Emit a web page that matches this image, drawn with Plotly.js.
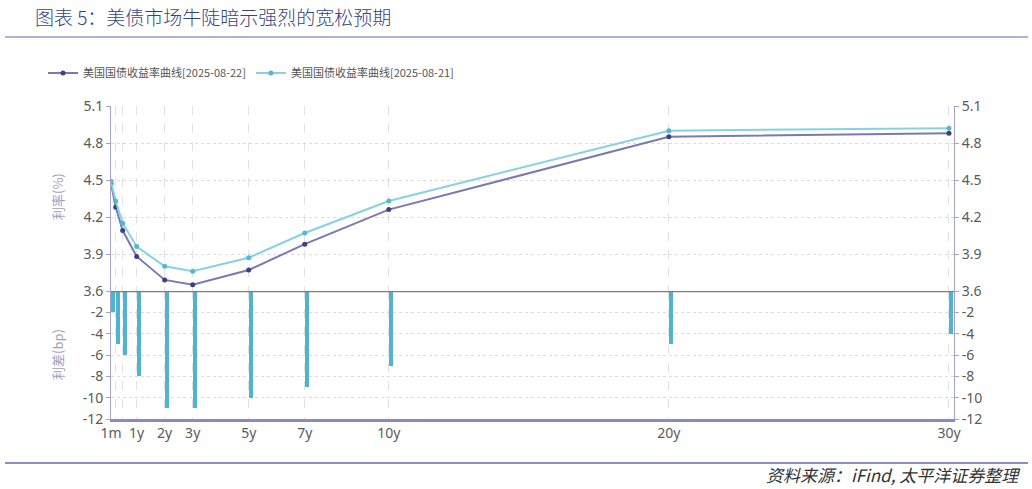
<!DOCTYPE html>
<html>
<head>
<meta charset="utf-8">
<script src="https://cdn.plot.ly/plotly-3.0.1.min.js"></script>
<style>
html,body{margin:0;padding:0;background:#fff;}
#chart{width:1032px;height:489px;}
</style>
</head>
<body>
<div id="chart"></div>
<script>
// ---- data ----
var maturities = [1/12, 0.25, 0.5, 1, 2, 3, 5, 7, 10, 20, 30];
var maturityLabels = ['1m', '', '', '1y', '2y', '3y', '5y', '7y', '10y', '20y', '30y'];
var yield0822 = [4.47, 4.28, 4.09, 3.88, 3.69, 3.65, 3.77, 3.98, 4.26, 4.85, 4.88];
var yield0821 = [4.49, 4.33, 4.15, 3.96, 3.80, 3.76, 3.87, 4.07, 4.33, 4.90, 4.92];
var spreadBp = [-2, -5, -6, -8, -11, -11, -10, -9, -7, -5, -4];
var name0822 = '美国国债收益率曲线[2025-08-22]';
var name0821 = '美国国债收益率曲线[2025-08-21]';
var rateTicks = [3.6, 3.9, 4.2, 4.5, 4.8, 5.1];
var rateTickText = ['3.6', '3.9', '4.2', '4.5', '4.8', '5.1'];
var spreadTicks = [-12, -10, -8, -6, -4, -2];
var spreadTickText = ['-12', '-10', '-8', '-6', '-4', '-2'];

// ---- geometry ----
var W = 1032, H = 489;
var L = 111, R = 78, T = 106, B = 70;
var PW = W - L - R, PH = H - T - B;
function px(x){ return (x - L) / PW; }
function py(y){ return 1 - (y - T) / PH; }
var split = py(291);

var narrow = 'DejaVu Sans Condensed, Liberation Sans Narrow, sans-serif';
var tickFont = {family: 'Noto Sans, sans-serif', size: 14, color: '#5a5a5a'};
var cjk = 'Noto Sans CJK SC, sans-serif';

var traces = [
  {
    type: 'bar', x: maturities, y: spreadBp, xaxis: 'x', yaxis: 'y2',
    width: 0.155, offset: 0, marker: {color: '#4fb4d0', line: {width: 0}}, showlegend: false, hoverinfo: 'skip'
  },
  {
    type: 'scatter', mode: 'lines+markers', x: maturities, y: yield0822, name: name0822,
    xaxis: 'x', yaxis: 'y',
    line: {color: '#7c79b2', width: 2}, marker: {color: '#3f3f88', size: 5}
  },
  {
    type: 'scatter', mode: 'lines+markers', x: maturities, y: yield0821, name: name0821,
    xaxis: 'x', yaxis: 'y',
    line: {color: '#86d2e2', width: 2}, marker: {color: '#55b8d2', size: 5}
  },
  {
    type: 'scatter', mode: 'lines', x: maturities, y: yield0822, xaxis: 'x', yaxis: 'y3',
    opacity: 0, showlegend: false, hoverinfo: 'skip'
  },
  {
    type: 'scatter', mode: 'lines', x: maturities, y: spreadBp, xaxis: 'x', yaxis: 'y4',
    opacity: 0, showlegend: false, hoverinfo: 'skip'
  }
];

var yCommon = {
  showline: true, linecolor: '#a3a3cc', linewidth: 1,
  ticks: 'outside', ticklen: 4, tickcolor: '#a3a3cc',
  showgrid: true, gridcolor: '#dcdcdc', griddash: 'dot', gridwidth: 1,
  zeroline: false, tickfont: tickFont, fixedrange: true, tickmode: 'array'
};

var layout = {
  width: W, height: H,
  margin: {l: L, r: R, t: T, b: B, pad: 0},
  paper_bgcolor: '#fff', plot_bgcolor: '#fff',
  showlegend: true,
  legend: {
    orientation: 'h', x: px(43), y: py(73), xanchor: 'left', yanchor: 'middle',
    font: {family: cjk, size: 11, color: '#555'},
    itemwidth: 30, tracegroupgap: 0, bgcolor: 'rgba(0,0,0,0)'
  },
  bargap: 0,
  xaxis: {
    type: 'linear', range: [1/12, 30.18], anchor: 'y2',
    tickmode: 'array', tickvals: maturities, ticktext: maturityLabels,
    tickfont: tickFont, ticks: '', showline: true, linecolor: '#8a88c6', linewidth: 2.5,
    showgrid: true, gridcolor: '#e2e2e2', griddash: 'dash', gridwidth: 1,
    zeroline: false, fixedrange: true
  },
  yaxis: Object.assign({}, yCommon, {
    domain: [split, 1], range: [3.6, 5.1], anchor: 'x',
    tickvals: rateTicks, ticktext: rateTickText
  }),
  yaxis2: Object.assign({}, yCommon, {
    domain: [0, split], range: [-12, 0], anchor: 'x',
    tickvals: spreadTicks, ticktext: spreadTickText
  }),
  yaxis3: Object.assign({}, yCommon, {
    overlaying: 'y', side: 'right', range: [3.6, 5.1], anchor: 'x', showgrid: false,
    tickvals: rateTicks, ticktext: rateTickText
  }),
  yaxis4: Object.assign({}, yCommon, {
    overlaying: 'y2', side: 'right', range: [-12, 0], anchor: 'x', showgrid: false,
    tickvals: spreadTicks, ticktext: spreadTickText
  }),
  shapes: [
    {type: 'line', xref: 'paper', yref: 'paper', x0: px(5), x1: px(1028), y0: py(37), y1: py(37),
     line: {color: '#b2b2d8', width: 2}},
    {type: 'line', xref: 'paper', yref: 'paper', x0: px(5), x1: px(1028), y0: py(463), y1: py(463),
     line: {color: '#8c8cc8', width: 2}},
    {type: 'line', xref: 'paper', yref: 'y2', x0: 0, x1: 1, y0: 0, y1: 0,
     line: {color: '#7d7d7d', width: 2.5}}
  ],
  annotations: [
    {text: '图表 5：美债市场牛陡暗示强烈的宽松预期', xref: 'paper', yref: 'paper',
     x: px(33), y: py(16), xanchor: 'left', yanchor: 'middle', showarrow: false,
     font: {family: cjk, size: 19, color: '#34447f', weight: 300}},
    {text: '<i>资料来源：iFind, 太平洋证券整理</i>', xref: 'paper', yref: 'paper',
     x: px(1022), y: py(474), xanchor: 'right', yanchor: 'middle', showarrow: false,
     font: {family: cjk, size: 17, color: '#333'}},
    {text: '利率(%)', xref: 'paper', yref: 'paper', x: px(57), y: py(197), textangle: -90,
     xanchor: 'center', yanchor: 'middle', showarrow: false,
     font: {family: cjk, size: 13, color: '#a0a0bc'}},
    {text: '利差(bp)', xref: 'paper', yref: 'paper', x: px(57), y: py(355), textangle: -90,
     xanchor: 'center', yanchor: 'middle', showarrow: false,
     font: {family: cjk, size: 13, color: '#a0a0bc'}}
  ]
};

Plotly.newPlot('chart', traces, layout, {displayModeBar: false, staticPlot: true});
</script>
</body>
</html>
